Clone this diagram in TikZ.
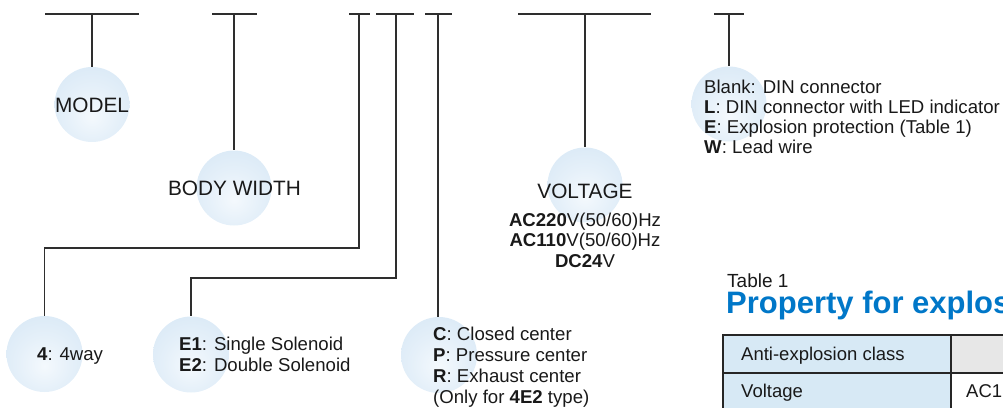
\documentclass[tikz,border=0pt]{standalone}
\usepackage{fontspec}
\setmainfont{Liberation Sans}
\definecolor{ln}{HTML}{2E2E2E}
\definecolor{ballin}{HTML}{F4F9FD}
\definecolor{ballout}{HTML}{CEE2F3}
\definecolor{ttl}{HTML}{0077C8}
\definecolor{tblue}{HTML}{D7E9F5}
\definecolor{tgray}{HTML}{E7E7E7}
\pgfdeclareradialshading{ball}{\pgfpoint{0bp}{-8bp}}{color(0bp)=(ballin); color(18bp)=(ballin!60!ballout); color(50bp)=(ballout); color(80bp)=(ballout)}
\tikzset{
  bar/.style={draw=ln, line width=1.3pt},
  conn/.style={draw=ln, line width=1.3pt},
  ballnode/.style={circle, shading=ball, minimum size=#1, inner sep=0pt},
  ballnode/.default=75pt,
  lbl/.style={font=\fontsize{20.8}{24}\selectfont, text=black!90, inner sep=0pt},
  desc/.style={font=\fontsize{18.6}{#1}\selectfont, text=black!90, inner sep=0pt, align=left},
  desc/.default=20.6,
  cell/.style={font=\fontsize{18.5}{21}\selectfont, text=black!90, inner sep=0pt},
}
\begin{document}
\begin{tikzpicture}[x=1pt, y=-1pt]
\useasboundingbox (0,0) rectangle (1003,407);
\clip (0,0) rectangle (1003,407);

% balls
\node[ballnode] (bmodel) at (92,104.5) {};
\node[ballnode] (bbody) at (234,188) {};
\node[ballnode] (bvolt) at (585,185) {};
\node[ballnode] (bconn) at (729,104) {};
\node[ballnode=76pt] (bway) at (44.5,354) {};
\node[ballnode=76pt] (bsol) at (191,354.5) {};
\node[ballnode=76pt] (bcen) at (439,355) {};

% top bars
\coordinate (t1) at (92,14);
\coordinate (t2) at (234,14);
\coordinate (t3) at (359,14);
\coordinate (t4) at (396,14);
\coordinate (t5) at (438,14);
\coordinate (t6) at (585,14);
\coordinate (t7) at (729,14);
\draw[bar] (45,14) -- (139,14);
\draw[bar] (212,14) -- (257,14);
\draw[bar] (349,14) -- (370,14);
\draw[bar] (376,14) -- (414,14);
\draw[bar] (425,14) -- (452,14);
\draw[bar] (518,14) -- (651,14);
\draw[bar] (714,14) -- (744,14);

% connectors
\coordinate (k3) at (359,248);
\coordinate (k4) at (396,278);
\draw[conn] (t1) -- (bmodel.north);
\draw[conn] (t2) -- (bbody.north);
\draw[conn] (t3) -- (k3) -| (bway.north);
\draw[conn] (t4) -- (k4) -| (bsol.north);
\draw[conn] (t5) -- (bcen.north -| t5);
\draw[conn] (t6) -- (bvolt.north);
\draw[conn] (t7) -- (bconn.north);

% labels
\node[lbl, anchor=base] (lmodel) at (92,112) {MODEL};
\node[lbl, anchor=base] (lbody) at (234.5,195) {BODY WIDTH};
\node[lbl, anchor=base] (lvolt) at (585,198) {VOLTAGE};

% descriptions (base anchor = baseline of last line)
\node[desc=20, anchor=base west] (dconn) at (704,153) {Blank: DIN connector\\\textbf{L}: DIN connector with LED indicator\\\textbf{E}: Explosion protection (Table 1)\\\textbf{W}: Lead wire};
\node[desc=20.5, align=center, anchor=base] (dvolt) at (585,267) {\textbf{AC220}V(50/60)Hz\\\textbf{AC110}V(50/60)Hz\\\textbf{DC24}V};
\node[desc, anchor=base west] (dway) at (37,360) {\textbf{4}: 4way};
\node[desc=21, anchor=base west] (dsol) at (179,371) {\textbf{E1}: Single Solenoid\\\textbf{E2}: Double Solenoid};
\node[desc=21, anchor=base west] (dcen) at (433,403) {\textbf{C}: Closed center\\\textbf{P}: Pressure center\\\textbf{R}: Exhaust center\\(Only for \textbf{4E2} type)};

% table
\node[font=\fontsize{19}{22}\selectfont, text=black!90, inner sep=0pt, text depth=0pt, anchor=base west] (tcap) at (727,287) {Table 1};
\node[font=\fontsize{31}{34}\selectfont\bfseries, text=ttl, inner sep=0pt, anchor=base west] (ttitle) at (726,313) {Property for explos};
\fill[tblue] (723,335) rectangle (951,420);
\fill[tgray] (951,335) rectangle (1010,373);
\fill[white] (951,373) rectangle (1010,420);
\draw[black!85, line width=1.2pt] (1010,335) -- (723,335) -- (723,420);
\draw[black!85, line width=1.2pt] (723,373) -- (1010,373);
\draw[black!85, line width=1.2pt] (951,335) -- (951,420);
\node[cell, anchor=base west] (c11) at (741,360) {Anti-explosion class};
\node[cell, anchor=base west] (c21) at (741,397) {Voltage};
\node[cell, anchor=base west] (c22) at (966,397) {AC1};
\end{tikzpicture}
\end{document}
